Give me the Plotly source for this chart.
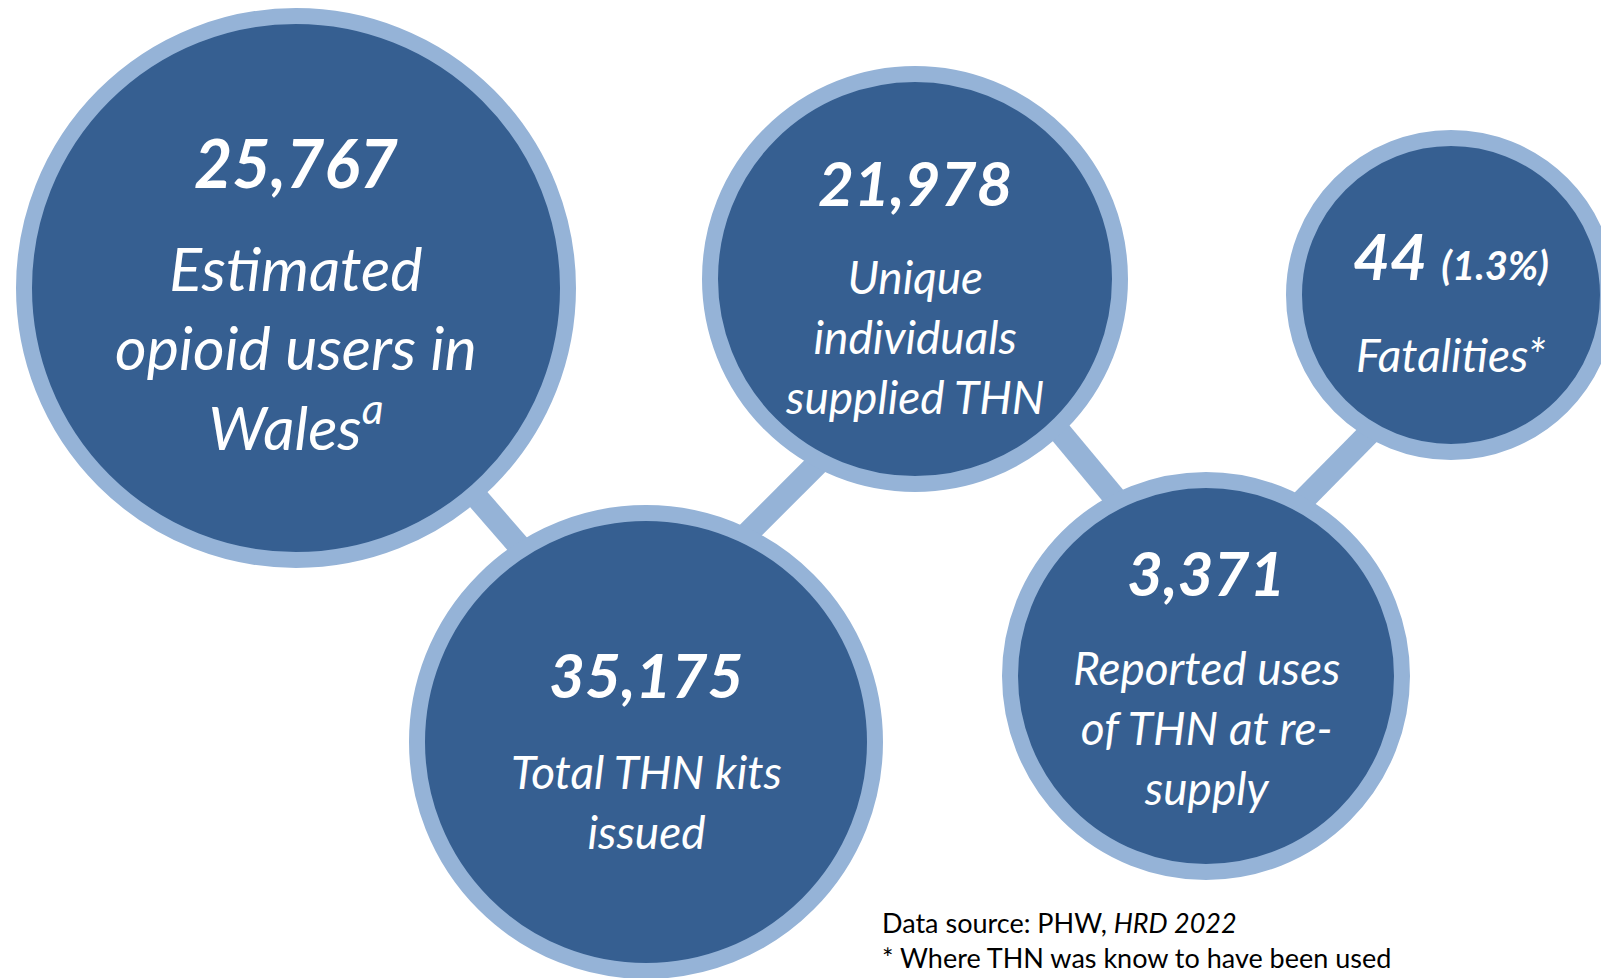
import plotly.graph_objects as go

# values and captions shown in the bubbles
values = ["25,767", "35,175", "21,978", "44", "3,371"]
extras = ["", "", "", " <span style='font-size:40px'>(1.3%)</span>", ""]
captions = [
    "Estimated<br>opioid users in<br>Wales<sup>a</sup>",
    "Total THN kits<br>issued",
    "Unique<br>individuals<br>supplied THN",
    "Fatalities*",
    "Reported uses<br>of THN at re-<br>supply",
]
notes = ["Data source: PHW, <i>HRD 2022</i>", "* Where THN was know to have been used"]

# layout of the bubbles (page pixels)
cx = [296, 646, 915, 1451, 1206]
cy = [288, 742, 279, 295, 676]
radius = [280, 237, 213, 165, 204]
num_y = [162, 674, 182, 255, 572]
cap_y = [347, 801, 336, 354, 727]
num_size = [66, 62, 62, 64, 62]
cap_size = [61, 46, 46, 46, 46]
# connector bars (end points hidden under the bubbles)
link_x = [(440, 540), (720, 850), (1030, 1140), (1260, 1400)]
link_y = [(455, 570), (561, 431), (396, 528), (544, 402)]

W, H = 1601, 978
ring = 16
fill_col = "#365F91"
ring_col = "#95B3D7"
font = "Lato"

fig = go.Figure()

for lx, ly in zip(link_x, link_y):
    fig.add_trace(go.Scatter(
        x=list(lx), y=list(ly), mode="lines",
        line=dict(color=ring_col, width=23), hoverinfo="skip", showlegend=False,
    ))

fig.add_trace(go.Scatter(
    x=cx, y=cy, mode="markers",
    marker=dict(
        size=[2 * r - ring for r in radius], color=fill_col,
        line=dict(color=ring_col, width=ring), opacity=1,
    ),
    hoverinfo="skip", showlegend=False,
))

for i in range(len(values)):
    num_text = f"<b><i>{values[i]}{extras[i]}</i></b>"
    fig.add_annotation(
        x=cx[i], y=num_y[i], text=num_text,
        showarrow=False, xanchor="center", yanchor="middle",
        font=dict(family=font, size=num_size[i], color="white"),
    )
    fig.add_annotation(
        x=cx[i], y=cap_y[i], text=f"<i>{captions[i]}</i>",
        showarrow=False, xanchor="center", yanchor="middle", align="center",
        font=dict(family=font, size=cap_size[i], color="white"),
    )

for j, t in enumerate(notes):
    fig.add_annotation(
        x=880, y=922 + 35 * j, text=t, showarrow=False,
        xanchor="left", yanchor="middle",
        font=dict(family=font, size=27, color="black"),
    )

fig.update_xaxes(range=[0, W], visible=False, fixedrange=True)
fig.update_yaxes(range=[H, 0], visible=False, fixedrange=True)
fig.update_layout(
    width=W, height=H, margin=dict(l=0, r=0, t=0, b=0),
    plot_bgcolor="white", paper_bgcolor="white",
)

# drop the default body margin so the figure sits flush in the window
fig.write_html(
    "out.html",
    config={"displayModeBar": False},
    post_script="document.body.style.margin='0';document.body.style.overflow='hidden';",
)
